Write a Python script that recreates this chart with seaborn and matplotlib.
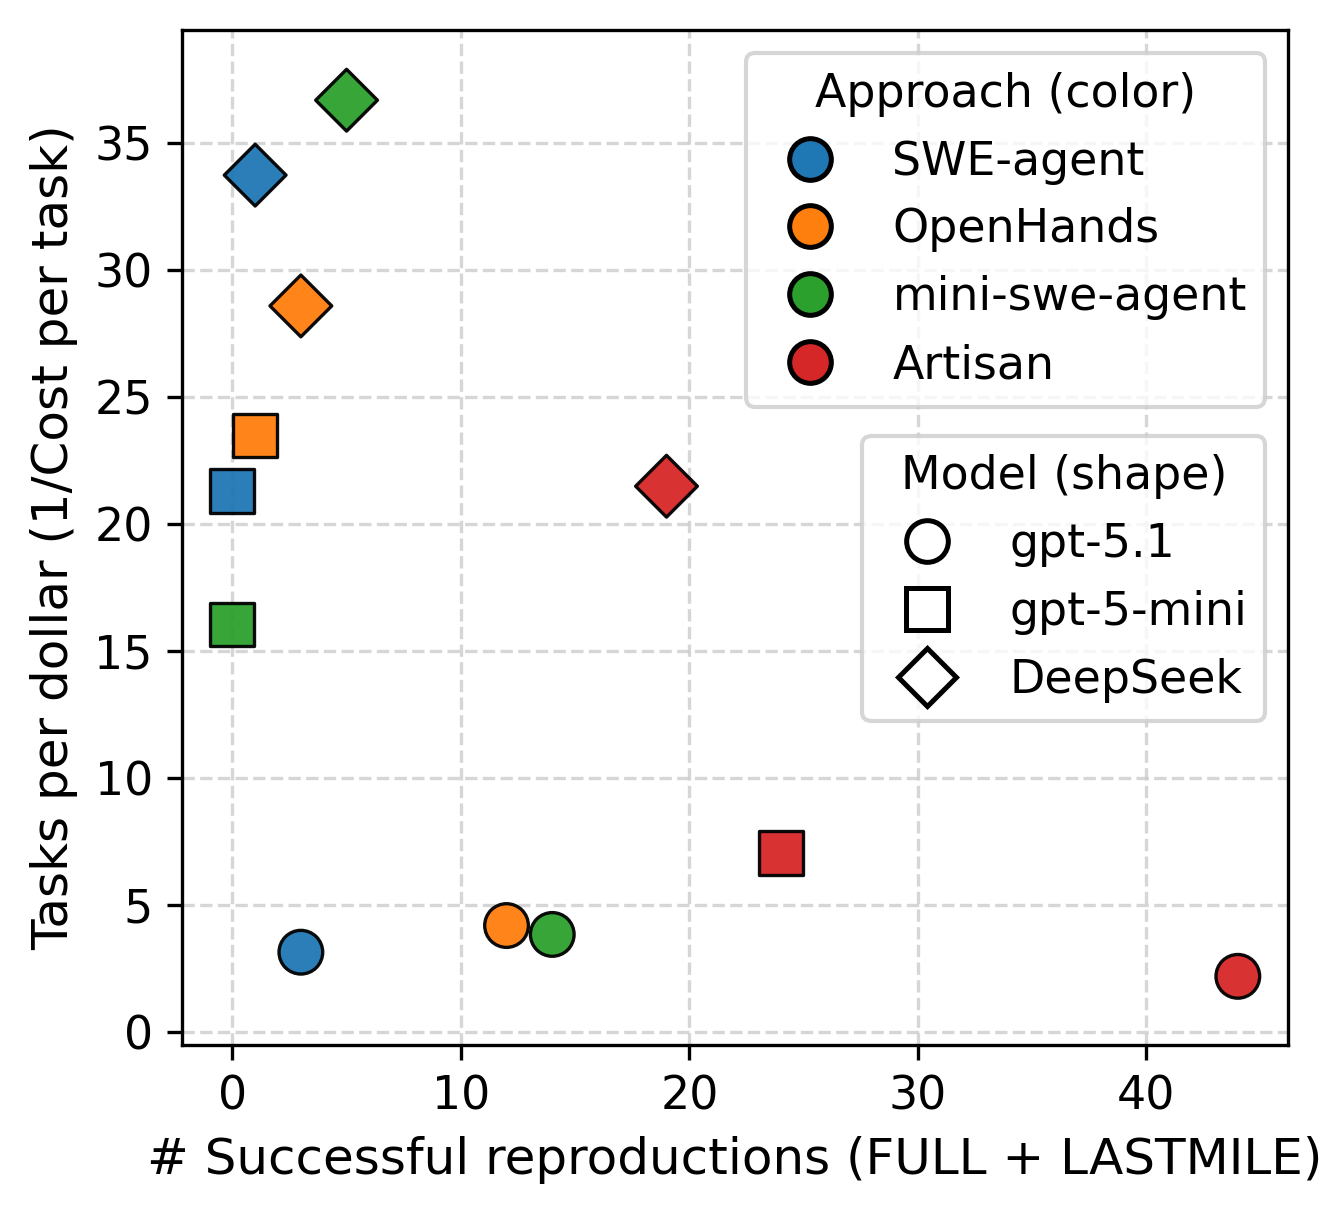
import matplotlib
matplotlib.use("Agg")
import matplotlib.pyplot as plt
from matplotlib.lines import Line2D
import pandas as pd
import seaborn as sns

# Data
approaches = ["SWE-agent", "OpenHands", "mini-swe-agent", "Artisan"]
models = ["gpt-5.1", "gpt-5-mini", "DeepSeek"]

approach_col = ["SWE-agent", "SWE-agent", "SWE-agent",
                "OpenHands", "OpenHands", "OpenHands",
                "mini-swe-agent", "mini-swe-agent", "mini-swe-agent",
                "Artisan", "Artisan", "Artisan"]
model_col = ["gpt-5.1", "gpt-5-mini", "DeepSeek"] * 4
successes = [3, 0, 1, 12, 1, 3, 14, 0, 5, 44, 24, 19]
tasks_per_dollar = [3.15, 21.3, 33.75, 4.2, 23.5, 28.6, 3.85, 16.05, 36.7, 2.2, 7.05, 21.5]

colors = ["#1f77b4", "#ff7f0e", "#2ca02c", "#d62728"]
markers = ["o", "s", "D"]

df = pd.DataFrame({
    "approach": approach_col,
    "model": model_col,
    "successes": successes,
    "tpd": tasks_per_dollar,
})

fig, ax = plt.subplots(figsize=(4.397, 4.05), dpi=300)
fig.subplots_adjust(left=0.138, right=0.9765, bottom=0.14, top=0.975)

sns.scatterplot(
    data=df, x="successes", y="tpd",
    hue="approach", hue_order=approaches, palette=colors,
    style="model", style_order=models, markers=markers,
    s=110, edgecolor="black", linewidth=0.8, alpha=0.95,
    legend=False, ax=ax, zorder=3,
)

ax.set_ylim(-0.5, 39.45)
ax.grid(True, linestyle="--", color="#cccccc", alpha=0.8, linewidth=0.8)
ax.set_axisbelow(True)
ax.set_xlabel("# Successful reproductions (FULL + LASTMILE)", fontsize=12)
ax.set_ylabel("Tasks per dollar (1/Cost per task)", fontsize=12)
ax.tick_params(labelsize=11)

# Legend for approach (colour)
color_handles = [
    Line2D([], [], marker="o", linestyle="", markersize=10,
           markerfacecolor=c, markeredgecolor="black", markeredgewidth=1.2)
    for c in colors
]
leg1 = ax.legend(color_handles, approaches, title="Approach (color)",
                 loc="upper right", fontsize=11, title_fontsize=11,
                 labelspacing=0.5, handletextpad=0.8)
ax.add_artist(leg1)

# Legend for model (shape)
shape_handles = [
    Line2D([], [], marker=m, linestyle="", markersize=10,
           markerfacecolor="white", markeredgecolor="black", markeredgewidth=1.2)
    for m in markers
]
ax.legend(shape_handles, models, title="Model (shape)",
          loc="upper right", bbox_to_anchor=(1.0, 0.623),
          fontsize=11, title_fontsize=11,
          labelspacing=0.5, handletextpad=0.8)

fig.savefig("out.png", dpi=300)
